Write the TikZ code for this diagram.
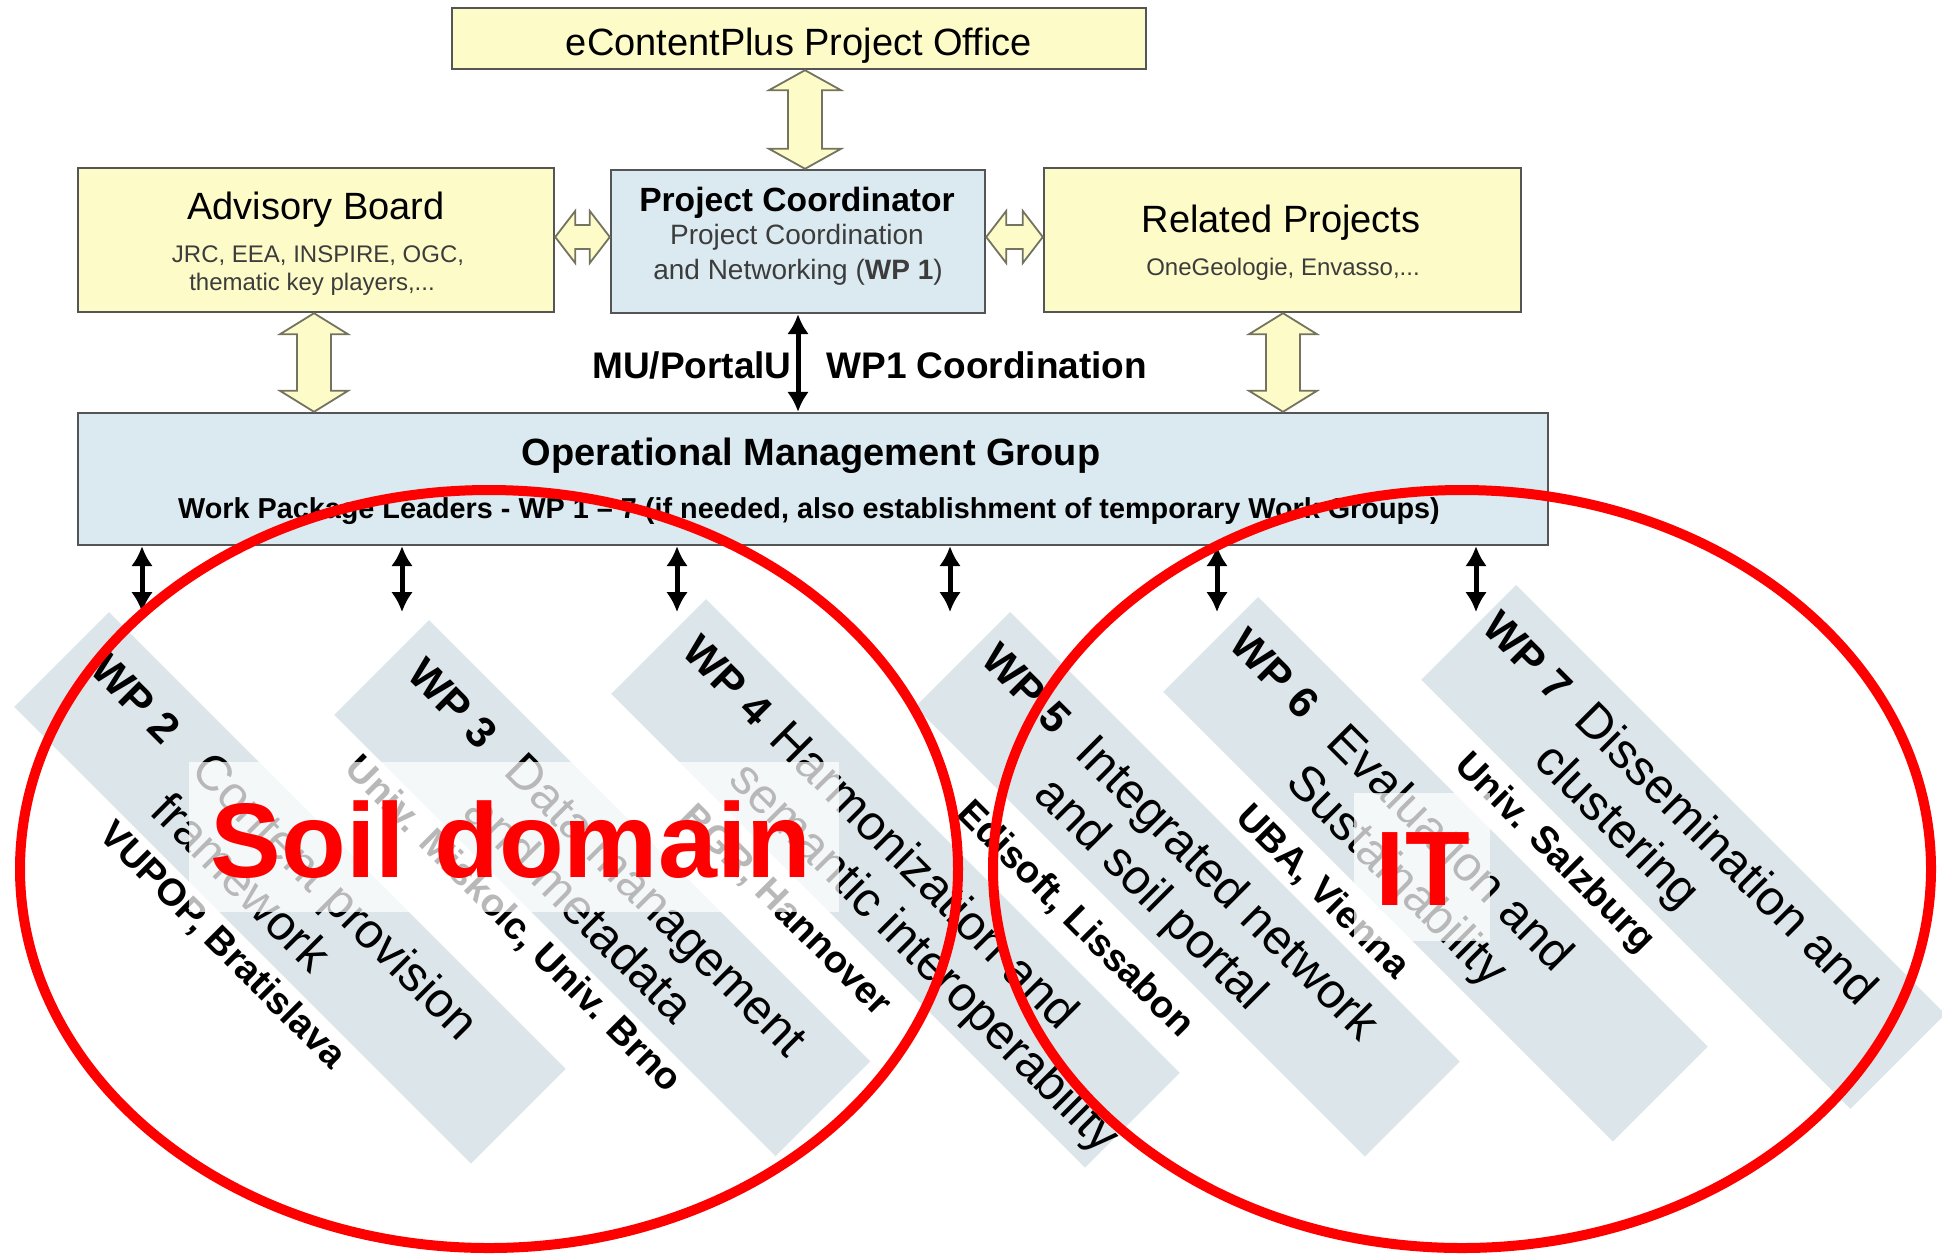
\documentclass[tikz,border=0pt]{standalone}
\usepackage{fontspec}
\setmainfont{Liberation Sans}
\usetikzlibrary{arrows.meta,calc}

\definecolor{boxyellow}{RGB}{253,251,200}
\definecolor{boxblue}{RGB}{219,234,240}
\definecolor{bandblue}{RGB}{220,230,234}
\definecolor{edgegray}{RGB}{85,85,85}
\definecolor{arrowedge}{RGB}{115,115,95}
\definecolor{subgray}{RGB}{60,60,60}

\newcommand\fs[2]{\fontsize{#1}{#2}\selectfont}

% vertical hollow double arrow: #1 upper end, #2 lower end,
% #3 half head width, #4 half shaft width, #5 head length
\newcommand\vblock[5]{%
  \path[blockarrow] let \p1=(#1), \p2=(#2) in
    (\x1,\y1) -- (\x1+#3,\y1-#5) -- (\x1+#4,\y1-#5) -- (\x1+#4,\y2+#5) -- (\x1+#3,\y2+#5)
    -- (\x1,\y2) -- (\x1-#3,\y2+#5) -- (\x1-#4,\y2+#5) -- (\x1-#4,\y1-#5) -- (\x1-#3,\y1-#5) -- cycle;}
% horizontal hollow double arrow: #1 left end, #2 right end
\newcommand\hblock[5]{%
  \path[blockarrow] let \p1=(#1), \p2=(#2) in
    (\x1,\y1) -- (\x1+#5,\y1+#3) -- (\x1+#5,\y1+#4) -- (\x2-#5,\y1+#4) -- (\x2-#5,\y1+#3)
    -- (\x2,\y1) -- (\x2-#5,\y1-#3) -- (\x2-#5,\y1-#4) -- (\x1+#5,\y1-#4) -- (\x1+#5,\y1-#3) -- cycle;}
% work package strip: #1 length, #2 width
\newcommand\wpstrip[2]{\fill[bandblue] (0,0) -- (#1,0) -- (#1,#2) -- (0,#2) -- cycle;}

\begin{document}
\begin{tikzpicture}[x=0.5pt,y=-0.5pt,
  box/.style={draw=edgegray, line width=1.2pt, inner sep=0pt},
  txt/.style={inner sep=0pt, anchor=base},
  blockarrow/.style={fill=boxyellow, draw=arrowedge, line width=0.9pt, line join=miter},
  dblk/.style={line width=2.5pt, arrows={Latex[length=10pt,width=11pt]-Latex[length=10pt,width=11pt]}},
  wplab/.style={inner sep=0pt, anchor=base west, font=\fs{21.5}{26}\bfseries},
  wptitle/.style={inner sep=0pt, anchor=base west, font=\fs{24.5}{28.5}},
  wplead/.style={inner sep=0pt, anchor=base west, font=\fs{19}{23}\bfseries},
  haze/.style={fill=white, fill opacity=0.72, inner sep=0pt},
  bigred/.style={inner sep=0pt, anchor=base, text=red, font=\fs{53}{58}\bfseries},
  redring/.style={draw=red, line width=5pt}
]
\fill[white] (0,0) rectangle (1942,1254);
\useasboundingbox (0,0) rectangle (1942,1254);

% ---- upper management structure ----
\node[box, fill=boxyellow, minimum width=347pt, minimum height=30.5pt] (eco) at (799,38.5) {};
\node[txt, font=\fs{19}{22}] (ecot) at (799,55) {eContentPlus Project Office};

\node[box, fill=boxyellow, minimum width=238pt, minimum height=72pt] (adv) at (316,240) {};
\node[txt, font=\fs{19}{22}] (advt) at (316,219) {Advisory Board};
\node[txt, font=\fs{12}{14}, text=subgray] (advs1) at (318,262) {JRC, EEA, INSPIRE, OGC,};
\node[txt, font=\fs{12}{14}, text=subgray] (advs2) at (312,290) {thematic key players,...};

\node[box, fill=boxblue, minimum width=187pt, minimum height=71.5pt] (pc) at (798,241.5) {};
\node[txt, font=\fs{16.8}{20}\bfseries] (pct) at (797,211) {Project Coordinator};
\node[txt, font=\fs{14}{17}, text=subgray] (pcs1) at (797,244) {Project Coordination};
\node[txt, font=\fs{14}{17}, text=subgray] (pcs2) at (798,279) {and Networking (\textbf{WP 1})};

\node[box, fill=boxyellow, minimum width=238.5pt, minimum height=72pt] (rp) at (1282.5,240) {};
\node[txt, font=\fs{19}{22}] (rpt) at (1281,232) {Related Projects};
\node[txt, font=\fs{12}{14}, text=subgray] (rps) at (1283,275) {OneGeologie, Envasso,...};

\node[box, fill=boxblue, minimum width=735pt, minimum height=66pt] (omg) at (813,479) {};
\node[txt, font=\fs{19}{22}\bfseries] (omgt) at (811,465) {Operational Management Group};
\node[txt, font=\fs{14.4}{17}\bfseries] (omgs) at (809,518)
  {Work Package Leaders - WP 1 -- 7 (if needed, also establishment of temporary Work Groups)};

% hollow connectors
\coordinate (cx805) at (805,0);
\coordinate (cx314) at (314,0);
\coordinate (cx1283) at (1283,0);
\coordinate (cy237) at (0,237);
\vblock{cx805 |- eco.south}{cx805 |- pc.north}{18pt}{8.5pt}{10pt}
\vblock{cx314 |- adv.south}{cx314 |- omg.north}{17pt}{8.5pt}{10.5pt}
\vblock{cx1283 |- rp.south}{cx1283 |- omg.north}{17pt}{8.5pt}{10.5pt}
\hblock{cy237 -| adv.east}{cy237 -| pc.west}{13pt}{6pt}{10pt}
\hblock{cy237 -| pc.east}{cy237 -| rp.west}{13pt}{6pt}{10pt}

% coordination link
\draw[dblk] (pc.south) -- (pc.south |- omg.north);
\node[txt, anchor=base east, font=\fs{18.5}{22}\bfseries] (mu) at (792,378) {MU/PortalU};
\node[txt, anchor=base west, font=\fs{18.5}{22}\bfseries] (wp1c) at (826,378) {WP1 Coordination};

% links down to the work packages
\foreach \i/\xx in {1/142,2/402,3/677,4/950,5/1217,6/1476}{
  \coordinate (wpe\i) at (\xx,612);
  \draw[dblk] (omg.south -| wpe\i) -- (wpe\i);
}

% ---- work package strips ----
\begin{scope}[shift={(109,612)}, rotate=-45, transform shape]
  \wpstrip{646}{134}
  \node[wplab] (wp2n) at (27,57) {WP 2};
  \node[wptitle] (wp2t) at (170,57) {\begin{tabular}[t]{@{}l@{}}Content provision\\framework\end{tabular}};
  \node[wplead] (wp2l) at (150,167) {VUPOP, Bratislava};
\end{scope}
\begin{scope}[shift={(429,620)}, rotate=-45, transform shape]
  \wpstrip{624}{134}
  \node[wplab] (wp3n) at (23,57) {WP 3};
  \node[wptitle] (wp3t) at (160,57) {\begin{tabular}[t]{@{}l@{}}Data management\\and metadata\end{tabular}};
  \node[wplead] (wp3l) at (46,167) {Univ. Miskolc, Univ. Brno};
\end{scope}
\begin{scope}[shift={(706,599)}, rotate=-45, transform shape]
  \wpstrip{670}{134}
  \node[wplab] (wp4n) at (20,57) {WP 4};
  \node[wptitle] (wp4t) at (144,57) {\begin{tabular}[t]{@{}l@{}}Harmonization and\\semantic interoperability\end{tabular}};
  \node[wplead] (wp4l) at (136,175) {BGR, Hannover};
\end{scope}
\begin{scope}[shift={(1010,612)}, rotate=-45, transform shape]
  \wpstrip{636}{134}
  \node[wplab] (wp5n) at (13,57) {WP 5};
  \node[wptitle] (wp5t) at (146,57) {\begin{tabular}[t]{@{}l@{}}Integrated network\\and soil portal\end{tabular}};
  \node[wplead] (wp5l) at (105,182) {Edisoft, Lissabon};
\end{scope}
\begin{scope}[shift={(1258,597)}, rotate=-45, transform shape]
  \wpstrip{636}{134}
  \node[wplab] (wp6n) at (13,57) {WP 6};
  \node[wptitle] (wp6t) at (151,57) {\begin{tabular}[t]{@{}l@{}}Evaluation and\\Sustainability\end{tabular}};
  \node[wplead] (wp6l) at (140,174) {UBA, Vienna};
\end{scope}
\begin{scope}[shift={(1516,585)}, rotate=-45, transform shape]
  \wpstrip{607}{134}
  \node[wplab] (wp7n) at (6,57) {WP 7};
  \node[wptitle] (wp7t) at (137,57) {\begin{tabular}[t]{@{}l@{}}Dissemination and\\clustering\end{tabular}};
  \node[wplead] (wp7l) at (84,173) {Univ. Salzburg};
\end{scope}

% ---- domain labels ----
\node[haze, minimum width=325pt, minimum height=75pt] (soilbg) at (514,837) {};
\node[bigred] (soil) at (511,877) {Soil domain};
\node[haze, minimum width=68pt, minimum height=74pt] (itbg) at (1422,867) {};
\node[bigred] (it) at (1423,905) {IT};

% domain rings
\draw[redring] (489,869) ellipse [x radius=234.5pt, y radius=189.5pt];
\draw[redring] (1462,869) ellipse [x radius=234.5pt, y radius=189.5pt];
\end{tikzpicture}
\end{document}
